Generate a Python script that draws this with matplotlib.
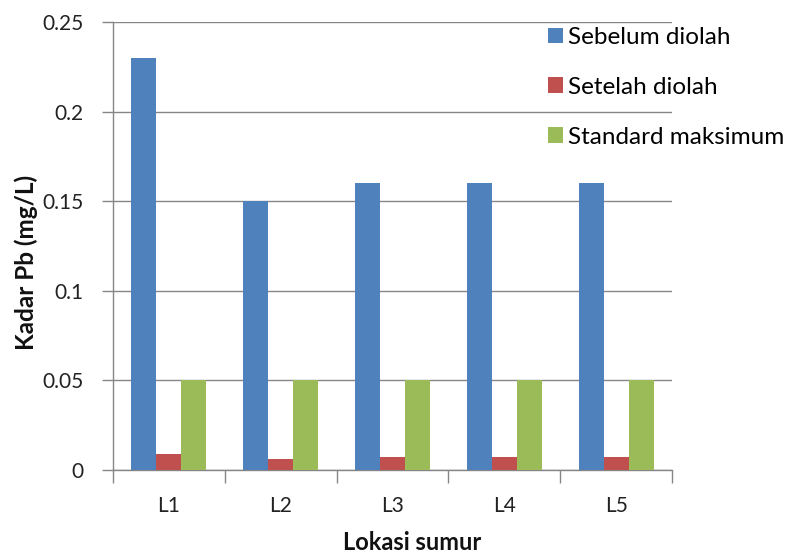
import matplotlib
matplotlib.use("Agg")
import matplotlib.pyplot as plt
import numpy as np
from matplotlib.ticker import FixedLocator

categories = ["L1", "L2", "L3", "L4", "L5"]
sebelum = [0.23, 0.15, 0.16, 0.16, 0.16]
setelah = [0.009, 0.006, 0.007, 0.007, 0.007]
standard = [0.05, 0.05, 0.05, 0.05, 0.05]
series_names = ["Sebelum diolah", "Setelah diolah", "Standard maksimum"]
yticks = [0, 0.05, 0.1, 0.15, 0.2, 0.25]
ytick_labels = ["0", "0.05", "0.1", "0.15", "0.2", "0.25"]

plt.rcParams['font.family'] = ['Lato', 'DejaVu Sans']

fig = plt.figure(figsize=(7.94, 5.54), dpi=100)
ax = fig.add_axes([113/794, 84/554, 559/794, 448/554])

colors = ["#4F81BD", "#C0504D", "#9BBB59"]
x = np.arange(len(categories))
w = 0.67 / 3
handles = []
for i, (vals, c) in enumerate(zip([sebelum, setelah, standard], colors)):
    h = ax.bar(x + (i - 1) * w, vals, width=w, color=c, zorder=3, label=series_names[i])
    handles.append(h)

ax.set_xlim(-0.5, len(categories) - 0.5)
ax.set_ylim(0, 0.25)
ax.set_yticks(yticks)
ax.set_yticklabels(ytick_labels)
ax.set_xticks(x)
ax.set_xticklabels(categories)
ax.xaxis.set_minor_locator(FixedLocator(np.arange(-0.5, len(categories), 1.0)))
ax.tick_params(axis='x', which='major', length=0, pad=19, labelsize=15, labelcolor='#222222')
ax.tick_params(axis='x', which='minor', length=9, width=1, color='#868686')
ax.tick_params(axis='y', length=8, width=1, color='#868686', pad=13.5, labelsize=15, labelcolor='#222222')

ax.grid(axis='y', color='#868686', linewidth=1, zorder=0)
for s in ['top', 'right']:
    ax.spines[s].set_visible(False)
for s in ['left', 'bottom']:
    ax.spines[s].set_color('#868686')
    ax.spines[s].set_linewidth(1)

fig.text(26/794, 1 - 262/554, "Kadar Pb (mg/L)", fontsize=17.5, fontweight='bold',
         rotation=90, ha='center', va='center', color='#111111')
fig.text(412/794, 1 - 542/554, "Lokasi sumur", fontsize=17, fontweight='bold',
         ha='center', va='center', color='#111111')

fig.legend(handles=handles, labels=series_names, loc='upper left',
           bbox_to_anchor=(548/794, 1 - 27/554), frameon=False,
           fontsize=17.5, handlelength=0.62, handleheight=0.62, handletextpad=0.22,
           labelspacing=1.19, borderaxespad=0, borderpad=0)

fig.savefig("out.png", dpi=100)
